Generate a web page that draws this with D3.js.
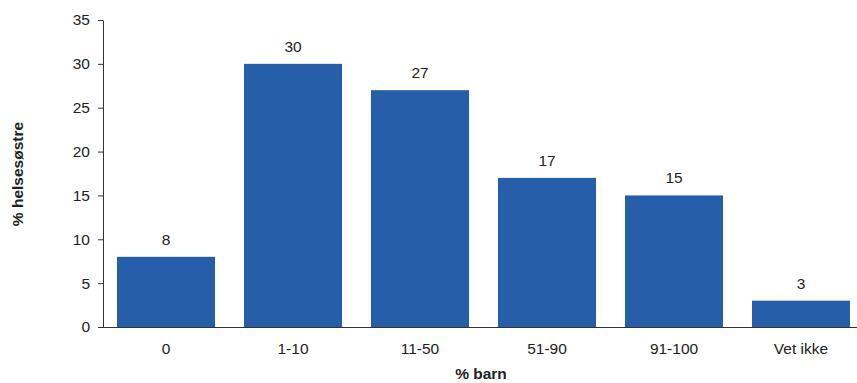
<!DOCTYPE html>
<html>
<head>
<meta charset="utf-8">
<script src="https://cdn.jsdelivr.net/npm/d3@7"></script>
<style>
  html, body { margin: 0; padding: 0; background: #fff; }
  svg { display: block; }
  text { font-family: "Liberation Sans", Arial, sans-serif; fill: #222; }
</style>
</head>
<body>
<svg id="chart" width="857" height="383"></svg>
<script>
// Andel helsesøstre etter andel barn
const categories = ["0", "1-10", "11-50", "51-90", "91-100", "Vet ikke"];
const values = [8, 30, 27, 17, 15, 3];
const yTicks = [0, 5, 10, 15, 20, 25, 30, 35];

const svg = d3.select("#chart");
const W = 857;
const FONT = "15.5px";

const x = d3.scaleBand()
  .domain(categories)
  .range([102.5, 864.5])
  .paddingInner(0.228)
  .paddingOuter(0.114);

const y = d3.scaleLinear()
  .domain([0, 35])
  .range([327, 20]);

// Bars
svg.append("g")
  .selectAll("rect")
  .data(values)
  .join("rect")
  .attr("x", (d, i) => x(categories[i]))
  .attr("y", d => y(d))
  .attr("width", x.bandwidth())
  .attr("height", d => y(0) - y(d))
  .attr("fill", "#275EA9");

// Value labels
svg.append("g")
  .selectAll("text")
  .data(values)
  .join("text")
  .attr("x", (d, i) => x(categories[i]) + x.bandwidth() / 2)
  .attr("y", d => y(d) - 12)
  .attr("text-anchor", "middle")
  .style("font-size", FONT)
  .text(d => d);

// Y axis
const yAxis = svg.append("g")
  .attr("transform", "translate(103,0)")
  .call(d3.axisLeft(y).tickValues(yTicks).tickSize(5).tickSizeOuter(0));
yAxis.select(".domain").attr("stroke", "#333");
yAxis.selectAll(".tick line").attr("stroke", "#333");
yAxis.selectAll(".tick text")
  .attr("x", -13)
  .style("font-size", FONT)
  .style("font-family", "Liberation Sans, Arial, sans-serif")
  .attr("fill", "#222");

// X axis
const xAxis = svg.append("g")
  .attr("transform", "translate(0,327)")
  .call(d3.axisBottom(x).tickSize(0).tickPadding(16));
xAxis.select(".domain").remove();
svg.append("line")
  .attr("x1", 103).attr("x2", W)
  .attr("y1", 327.5).attr("y2", 327.5)
  .attr("stroke", "#333");
xAxis.selectAll(".tick text")
  .style("font-size", FONT)
  .style("font-family", "Liberation Sans, Arial, sans-serif")
  .attr("fill", "#222");

// Axis titles
svg.append("text")
  .attr("x", 481)
  .attr("y", 379)
  .attr("text-anchor", "middle")
  .style("font-size", "15.5px")
  .style("font-weight", "bold")
  .text("% barn");

svg.append("text")
  .attr("transform", "translate(23,174) rotate(-90)")
  .attr("text-anchor", "middle")
  .style("font-size", "15.5px")
  .style("font-weight", "bold")
  .text("% helsesøstre");
</script>
</body>
</html>
